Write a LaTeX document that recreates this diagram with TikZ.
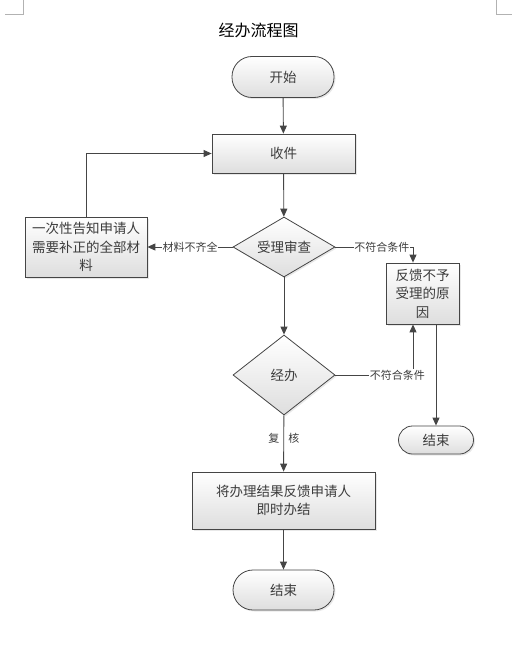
\documentclass[tikz,border=0pt]{standalone}
\usepackage{fontspec}
\setmainfont{Noto Sans CJK SC}
\usepackage{tikz}
\usetikzlibrary{shapes.geometric, arrows.meta, shadows}
\definecolor{Linegray}{HTML}{454545}
\definecolor{Textgray}{HTML}{3C3C3C}
\tikzstyle{arrow} = [
    line width=0.9pt,
    Linegray,
    -{Triangle[length=8pt,width=7pt]}
]
\tikzstyle{box} = [
    draw=Linegray, line width=0.8pt,
    top color=white, bottom color=black!13,
    drop shadow={opacity=0.18, shadow xshift=1.5pt, shadow yshift=-1.5pt},
    text=Textgray, align=center, inner sep=0pt,
    font=\fontsize{13.5}{18.5}\selectfont
]
\tikzstyle{process} = [box, rectangle]
\tikzstyle{terminal} = [box, rectangle, rounded corners=20pt]
\tikzstyle{decision} = [box, diamond]
\tikzstyle{edgetext} = [fill=white, inner sep=0.5pt, text=Textgray, font=\fontsize{11}{13}\selectfont]

\begin{document}
\begin{tikzpicture}[x=1pt, y=-1pt]
    \useasboundingbox (0,0) rectangle (512,647);
    % Page corner marks
    \draw[black!30, line width=0.6pt] (5,14.5) -- (23,14.5) -- (23,0);
    \draw[black!30, line width=0.6pt] (496,0) -- (496,14.5) -- (512,14.5);
    % Title
    \node (title) at (258.5,30) {\fontsize{16}{19}\selectfont 经办流程图};
    % Main column
    \node[terminal, minimum width=102pt, minimum height=41pt] (start) at (283,77) {开始};
    \node[process, minimum width=143pt, minimum height=39pt] (receive) at (283.5,153.5) {收件};
    \node[decision, aspect=1.7, minimum width=102pt, minimum height=60pt] (review) at (284,247) {受理审查};
    \node[decision, aspect=1.3, minimum width=102pt, minimum height=80pt] (handle) at (284,375) {经办};
    \node[process, minimum width=183pt, minimum height=57pt] (result) at (283.5,500.5) {将办理结果反馈申请人\\即时办结};
    \node[terminal, minimum width=101pt, minimum height=40pt] (finish) at (283.5,590) {结束};
    % Side boxes
    \node[process, minimum width=122pt, minimum height=60pt] (notify) at (86,247) {一次性告知申请人\\需要补正的全部材\\料};
    \node[process, minimum width=73pt, minimum height=61pt] (reason) at (422.5,293.5) {反馈不予\\受理的原\\因};
    \node[terminal, rounded corners=14pt, minimum width=75pt, minimum height=28pt] (finishside) at (436,440) {结束};
    % Connectors
    \draw[arrow] (start) -- (receive);
    \draw[arrow] (receive) -- (review);
    \draw[arrow] (review) -- (handle);
    \draw[arrow] (handle) -- node[text=Textgray, font=\fontsize{11}{13}\selectfont, pos=0.4] {复\hspace{9pt}核} (result);
    \draw[arrow] (result) -- (finish);
    \draw[arrow] (review.west) -- node[edgetext, pos=0.5] {材料不齐全} (notify.east);
    \draw[arrow] (notify.north) |- (receive.west);
    \draw[arrow] (review.east) -| node[edgetext, pos=0.3] {不符合条件} ([xshift=-9.5pt]reason.north);
    \draw[arrow] (handle.east) -| node[edgetext, pos=0.4] {不符合条件} ([xshift=-9.5pt]reason.south);
    \draw[arrow] (finishside.north |- reason.south) -- (finishside.north);
\end{tikzpicture}
\end{document}
